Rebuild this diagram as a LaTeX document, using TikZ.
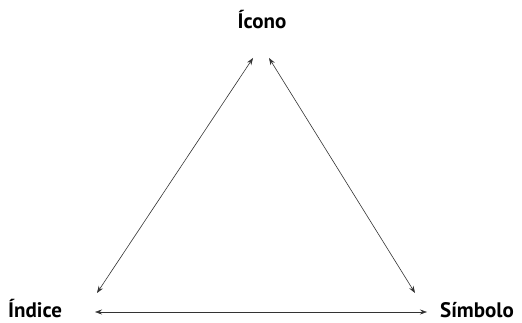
\documentclass[tikz,border=0pt]{standalone}
\usepackage{fontspec}
\setmainfont{PT Sans}
\usetikzlibrary{arrows.meta}
\begin{document}
\begin{tikzpicture}[x=1pt,y=1pt,
  lbl/.style={font=\bfseries\fontsize{21}{25}\selectfont, inner sep=0pt},
  rel/.style={line width=0.6pt, draw=black!80, {Stealth[length=7pt,width=5pt]}-{Stealth[length=7pt,width=5pt]}}]
\useasboundingbox (0,0) rectangle (522,323);
\node[lbl, anchor=base] (icono) at (262,294) {Ícono};
\node[lbl, anchor=base west] (indice) at (8,5) {Índice};
\node[lbl, anchor=base west] (simbolo) at (440,5) {Símbolo};
\coordinate (iL) at (253,265);
\coordinate (iR) at (269,265);
\coordinate (dT) at (97,30);
\coordinate (dR) at (95,11);
\coordinate (sT) at (415,30);
\coordinate (sL) at (427,11);
\draw[rel] (iL) -- (dT);
\draw[rel] (iR) -- (sT);
\draw[rel] (dR) -- (sL);
\end{tikzpicture}
\end{document}
